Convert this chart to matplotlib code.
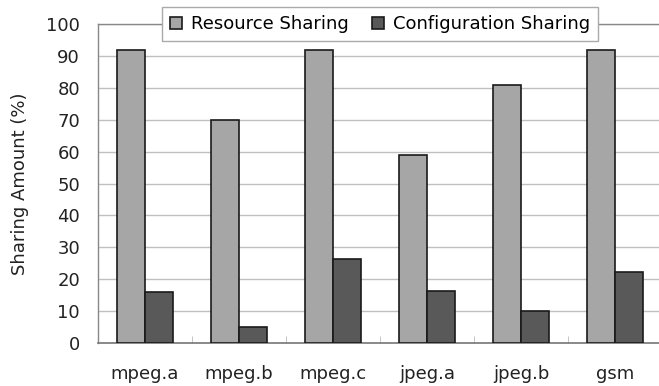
import matplotlib
matplotlib.use("Agg")
import matplotlib.pyplot as plt
import numpy as np

categories = ["mpeg.a", "mpeg.b", "mpeg.c", "jpeg.a", "jpeg.b", "gsm"]
resource_sharing = [92, 70, 92, 59, 81, 92]
config_sharing = [16, 5, 26.3, 16.4, 10, 22.3]
yticks = [0, 10, 20, 30, 40, 50, 60, 70, 80, 90, 100]

plt.rcParams['font.family'] = ['DejaVu Sans']

W, H = 659, 386
fig = plt.figure(figsize=(W/100, H/100), dpi=100)
left, right, top, bottom = 98, 662, 24, 343
ax = fig.add_axes([left/W, 1-bottom/H, (right-left)/W, (bottom-top)/H])

x = np.arange(len(categories))
bw = 0.298
ax.bar(x - bw/2, resource_sharing, bw, color='#a6a6a6', edgecolor='#1a1a1a', linewidth=1.2,
       label='Resource Sharing', zorder=3)
ax.bar(x + bw/2, config_sharing, bw, color='#595959', edgecolor='#1a1a1a', linewidth=1.2,
       label='Configuration Sharing', zorder=3)

fs = 13
ax.set_xlim(-0.5, len(categories) - 0.5)
ax.set_ylim(0, 100)
ax.set_yticks(yticks)
ax.set_yticklabels([str(v) for v in yticks], fontsize=fs, color='#222222')
ax.set_xticks(x)
ax.set_xticklabels(categories, fontsize=fs, color='#222222')
ax.tick_params(axis='x', length=0, pad=16)
ax.tick_params(axis='y', length=0, pad=13)
ax.set_xticks(np.arange(0.5, len(categories) - 0.5, 1), minor=True)
ax.tick_params(axis='x', which='minor', direction='in', length=5, color='#bbbbbb')

ax.yaxis.grid(True, color='#c0c0c0', linewidth=1.0, zorder=0)
for s in ['top', 'left', 'right']:
    ax.spines[s].set_color('#888888')
    ax.spines[s].set_linewidth(1.0)
ax.spines['bottom'].set_color('#777777')
ax.spines['bottom'].set_linewidth(1.2)

ax.set_ylabel('Sharing Amount (%)', fontsize=fs, color='#222222', labelpad=12)

leg = ax.legend(loc='center', bbox_to_anchor=(0.5, 1.0), ncol=2, fontsize=fs,
                frameon=True, fancybox=False, edgecolor='#aaaaaa', framealpha=1,
                handlelength=0.65, handleheight=0.65, handletextpad=0.5,
                columnspacing=1.3, borderpad=0.45, borderaxespad=0)
leg.get_frame().set_linewidth(1.0)
leg.set_zorder(10)

fig.savefig('out.png', dpi=100)
